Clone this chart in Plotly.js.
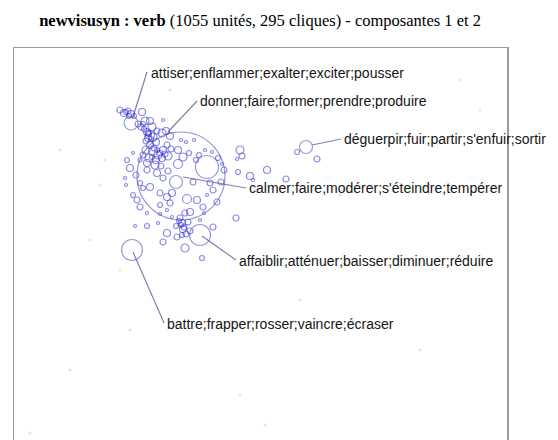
<!DOCTYPE html>
<html>
<head>
<meta charset="utf-8">
<script src="https://cdn.plot.ly/plotly-3.0.1.min.js"></script>
<style>html,body{margin:0;padding:0;background:#fff;}#chart{width:558px;height:440px;}</style>
</head>
<body>
<div id="chart"></div>
<script>
// Cluster labels
var labels = [
  "attiser;enflammer;exalter;exciter;pousser",
  "donner;faire;former;prendre;produire",
  "déguerpir;fuir;partir;s'enfuir;sortir",
  "calmer;faire;modérer;s'éteindre;tempérer",
  "affaiblir;atténuer;baisser;diminuer;réduire",
  "battre;frapper;rosser;vaincre;écraser"
];
var labelX = [149, 198, 342, 247, 237, 165];
var labelY = [73, 101, 139, 188, 261, 324];
// leader lines: from label to clique
var lineX0 = [147, 197, 341, 246, 236, 164];
var lineY0 = [72, 101, 139, 188, 260, 323];
var lineX1 = [133, 168, 312, 183, 202, 133];
var lineY1 = [117, 132, 145, 177, 236, 252];

// large cliques (x, y, diameter)
var bigX = [181, 207, 131, 176, 200, 132, 306];
var bigY = [176, 167, 123, 182, 235, 250, 147];
var bigD = [88, 23, 14, 13, 21, 21, 13];

// small cliques
var smallX = [120,124,128,131,134,142,138,141,143,145,150,152,147,150,148,153,157,162,166,170,163,156,150,146,153,158,163,167,143,149,156,162,168,171,147,155,161,140,178,183,178,181,186,194,189,196,240,242,237,238,250,253,267,286,297,317,130,136,147,157,163,168,140,143,150,160,167,172,170,187,197,203,213,217,207,193,210,221,224,218,222,133,137,140,147,160,167,190,185,180,182,188,176,183,190,186,172,167,163,177,182,185,213,236,135,147,158,202,127,133,125,126,160,200,204,199,205,212,
              126,129,148,151,146,154,160,152,157,165,149,144,181,184,179];
var smallY = [110,113,111,114,116,112,124,127,124,121,121,127,132,135,138,137,131,133,131,136,120,142,145,150,151,155,150,145,155,158,160,158,156,149,163,165,166,160,150,157,164,140,142,140,153,160,150,156,159,172,176,180,170,179,152,159,168,175,170,173,178,171,183,188,187,193,197,193,203,199,200,207,190,202,195,182,183,182,170,158,164,195,200,207,213,205,210,212,213,218,223,222,226,229,231,234,217,233,242,237,235,248,227,218,226,226,223,258,160,153,178,185,214,220,213,155,150,152,
              112,116,133,139,141,148,153,157,150,154,134,129,225,227,221];
var smallD = [6,7,6,7,5,7,6,6,5,8,7,8,7,9,7,8,6,8,7,7,3,7,7,8,9,8,7,6,6,8,7,7,8,6,7,8,6,4,7,8,9,3,3,3,5,5,8,6,3,5,7,3,7,6,5,6,7,6,6,7,6,6,5,5,7,6,7,7,6,9,7,6,6,6,3,6,6,6,6,5,3,5,6,6,3,5,3,7,6,6,7,6,5,7,6,6,3,7,6,6,5,8,6,6,3,5,3,5,5,3,3,3,3,3,3,5,3,3,
             5,5,6,5,6,6,6,5,5,6,5,5,5,6,5];

// faint isolated units
var faintX = [30, 105, 100, 120, 265, 248, 240, 460, 240, 130, 70, 170, 340, 480, 90, 300, 420, 60];
var faintY = [433, 160, 185, 270, 425, 107, 100, 80, 395, 330, 370, 90, 195, 110, 240, 300, 350, 150];

var lx = [], ly = [];
for (var i = 0; i < lineX0.length; i++) {
  lx.push(lineX0[i], lineX1[i], null);
  ly.push(lineY0[i], lineY1[i], null);
}

var traces = [
  {x: faintX, y: faintY, mode: 'markers', type: 'scatter', hoverinfo: 'skip',
   marker: {size: 3, color: '#e6e6e6'}},
  {x: lx, y: ly, mode: 'lines', type: 'scatter', hoverinfo: 'skip',
   line: {color: '#8080b0', width: 1.2}},
  {x: smallX, y: smallY, mode: 'markers', type: 'scatter', hoverinfo: 'skip',
   marker: {symbol: 'circle-open', size: smallD, color: 'rgba(50,50,205,0.8)', line: {width: 1.2}}},
  {x: bigX, y: bigY, mode: 'markers', type: 'scatter', hoverinfo: 'skip',
   marker: {symbol: 'circle-open', size: bigD, color: 'rgba(85,85,195,0.85)', line: {width: 1.2}}}
];

var annotations = labels.map(function (t, i) {
  return {x: labelX[i], y: labelY[i], xref: 'x', yref: 'y', text: t, showarrow: false,
          xanchor: 'left', yanchor: 'middle',
          font: {family: 'Liberation Sans, Arial, sans-serif', size: 14, color: '#141414'}};
});

var layout = {
  width: 558, height: 440,
  margin: {l: 14, r: 51, t: 48, b: 0, pad: 0},
  paper_bgcolor: '#fff', plot_bgcolor: '#fff',
  showlegend: false,
  title: {text: '<b>newvisusyn : verb</b> (1055 unités, 295 cliques) - composantes 1 et 2',
          font: {family: 'Liberation Serif, Times New Roman, serif', size: 16.5, color: '#000'},
          x: 0.466, xanchor: 'center', y: 1 - 20 / 440, yref: 'container', yanchor: 'middle'},
  xaxis: {range: [14, 507], side: 'top', showline: true, linecolor: '#9a9a9a', linewidth: 1.5,
          showgrid: false, zeroline: false, showticklabels: false, ticks: '', fixedrange: true},
  yaxis: {range: [440, 48], showline: true, mirror: true, linecolor: '#9a9a9a', linewidth: 1.5,
          showgrid: false, zeroline: false, showticklabels: false, ticks: '', fixedrange: true},
  annotations: annotations
};

Plotly.newPlot('chart', traces, layout, {displayModeBar: false, staticPlot: true});
</script>
</body>
</html>
